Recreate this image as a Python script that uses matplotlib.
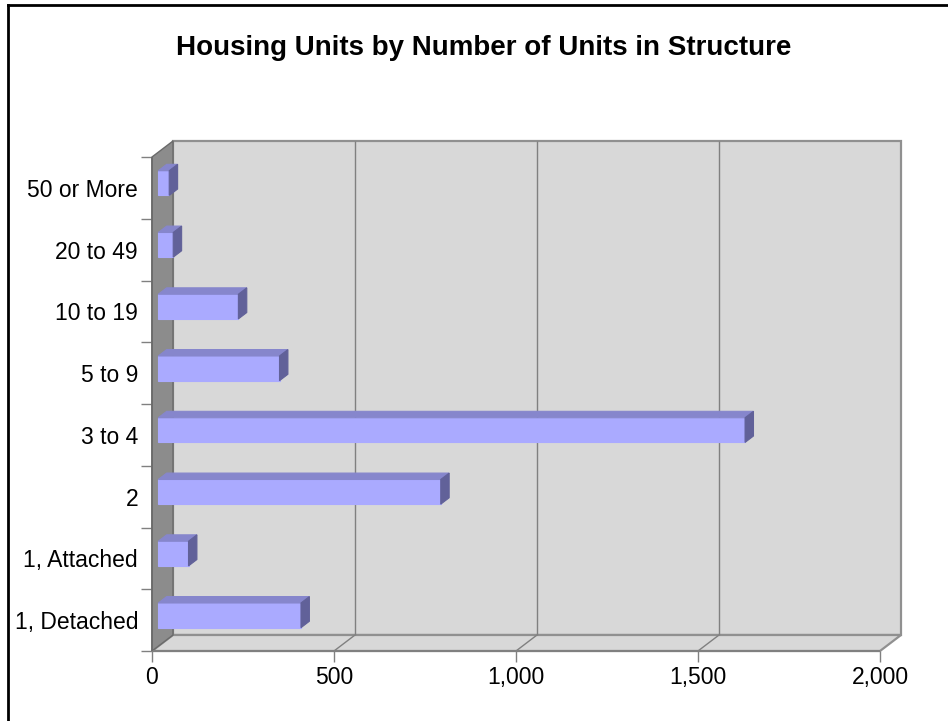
import matplotlib
matplotlib.use("Agg")
import matplotlib.pyplot as plt
from matplotlib.lines import Line2D

plt.rcParams['font.family'] = ['Liberation Sans', 'DejaVu Sans']

categories = ["1, Detached", "1, Attached", "2", "3 to 4", "5 to 9",
              "10 to 19", "20 to 49", "50 or More"]
units = [392, 83, 776, 1612, 333, 220, 41, 30]
xticks = [0, 500, 1000, 1500, 2000]
xticklabels = ["0", "500", "1,000", "1,500", "2,000"]

W, H = 948, 721
fig = plt.figure(figsize=(W / 100, H / 100), dpi=100)

# front plane of the 3d box, in pixels
left, right, bottom, top = 152, 880, 651, 157
ax = fig.add_axes([left / W, (H - bottom) / H, (right - left) / W, (bottom - top) / H])
XMAX = 2000
n = len(categories)
ax.set_xlim(0, XMAX)
ax.set_ylim(-0.5, n - 0.5)

# depth offset (pixels) of the back wall
DEPTH_PX = (21, 16)
DX = DEPTH_PX[0] / ((right - left) / XMAX)
DY = DEPTH_PX[1] / ((bottom - top) / n)


def proj(x, y, d):
    return x + d * DX, y + d * DY


def poly(pts, fc, ec=None, lw=0.8, z=1):
    xs, ys = zip(*[proj(*p) for p in pts])
    ax.fill(xs, ys, facecolor=fc, edgecolor=ec if ec else fc, linewidth=lw,
            zorder=z, clip_on=False)


def line(p1, p2, color="#808080", lw=1.0, z=2):
    a, b = proj(*p1), proj(*p2)
    ax.plot([a[0], b[0]], [a[1], b[1]], color=color, lw=lw, zorder=z,
            clip_on=False, solid_capstyle="butt")


y0, y1 = -0.5, n - 0.5
wall = "#d8d8d8"
# back wall, floor, left wall
poly([(0, y0, 1), (XMAX, y0, 1), (XMAX, y1, 1), (0, y1, 1)], wall, "#909090", 1.6, 1)
poly([(0, y0, 0), (XMAX, y0, 0), (XMAX, y0, 1), (0, y0, 1)], wall, "#909090", 1.6, 1)
poly([(0, y0, 0), (0, y1, 0), (0, y1, 1), (0, y0, 1)], "#8c8c8c", "#6a6a6a", 1.0, 1.5)

# gridlines on the back wall and floor
for t in xticks[1:-1]:
    line((t, y0, 1), (t, y1, 1), "#808080", 1.0)
    line((t, y0, 0), (t, y0, 1), "#808080", 1.0)

# front edges
line((0, y0, 0), (XMAX, y0, 0), "#808080", 1.5, 3)
line((0, y0, 0), (0, y1, 0), "#6a6a6a", 1.2, 3)

# bars
d0, d1 = 0.3, 0.7
half = 0.2
for i, v in enumerate(units):
    lo, hi = i - half, i + half
    poly([(0, lo, d0), (v, lo, d0), (v, hi, d0), (0, hi, d0)], "#aaaaff", z=5)
    poly([(0, hi, d0), (v, hi, d0), (v, hi, d1), (0, hi, d1)], "#8686cc", z=5)
    poly([(v, lo, d0), (v, hi, d0), (v, hi, d1), (v, lo, d1)], "#616199", z=5)

for s in ax.spines.values():
    s.set_visible(False)
ax.set_facecolor("none")

ax.set_xticks(xticks)
ax.set_xticklabels(xticklabels, fontsize=16.5)
ax.tick_params(axis="x", length=8, color="#808080", width=1, pad=3)

ax.set_yticks([k - 0.5 for k in range(n + 1)])
ax.set_yticklabels([])
ax.set_yticks(range(n), minor=True)
ax.set_yticklabels(categories, minor=True, fontsize=16.5)
ax.tick_params(axis="y", which="major", length=8, color="#808080", width=1)
ax.tick_params(axis="y", which="minor", length=0, pad=10)

fig.text(484 / W, 1 - 48 / H, "Housing Units by Number of Units in Structure",
         ha="center", va="center", fontsize=20, fontweight="bold")

# outer chart frame
fig.add_artist(Line2D([8 / W, 8 / W], [0, 1 - 5 / H], color="black", lw=2,
                      transform=fig.transFigure))
fig.add_artist(Line2D([8 / W, 1], [1 - 5 / H, 1 - 5 / H], color="black", lw=2,
                      transform=fig.transFigure))

fig.savefig("out.png", dpi=100)
